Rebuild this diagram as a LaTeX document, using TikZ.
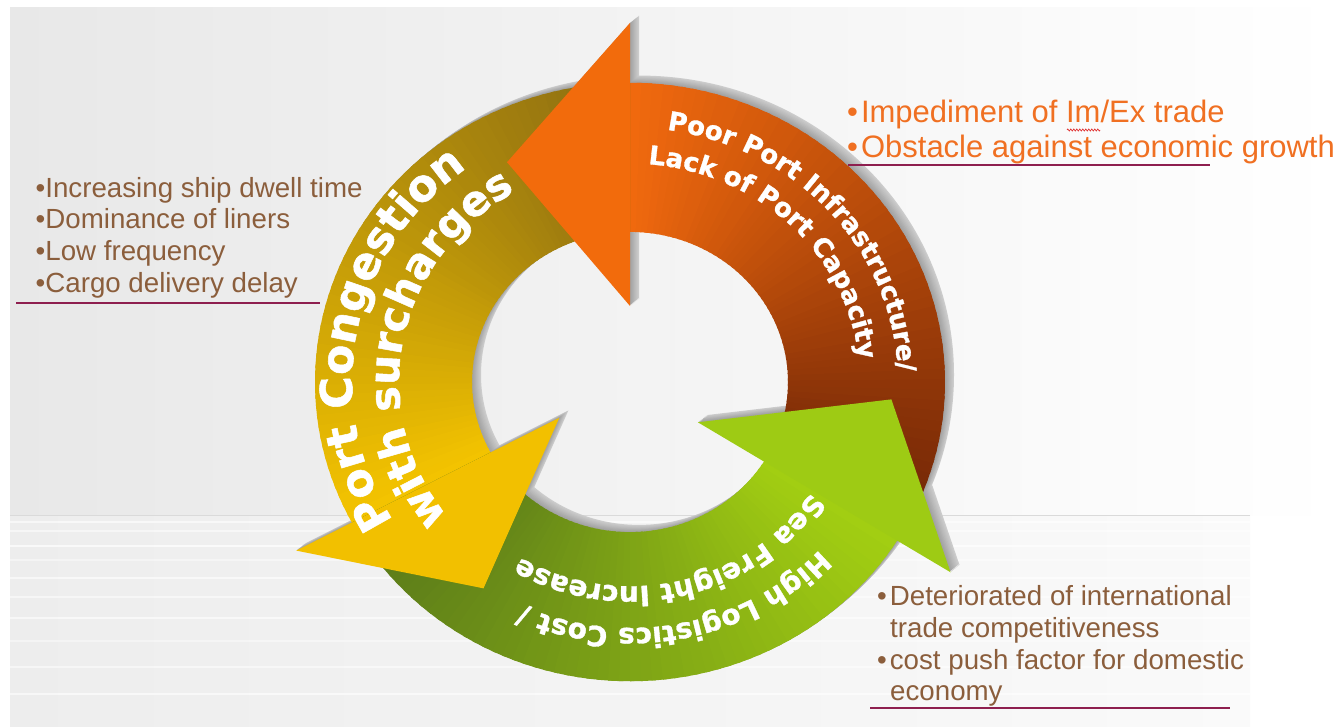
\documentclass[tikz,border=0pt]{standalone}
\usepackage{fontspec}
\setmainfont{Liberation Sans}
\newfontfamily\ringfont{DejaVu Sans}[BoldFeatures={FakeBold=1.2}]
\usetikzlibrary{decorations.text,decorations.pathmorphing}

% background
\definecolor{bgdark}{HTML}{E8E8E8}
\definecolor{bgmid}{HTML}{F3F3F3}
\definecolor{floorL}{HTML}{EDEDED}
\definecolor{floorR}{HTML}{FAFAFA}
\definecolor{horizon}{HTML}{DADADA}
% ring colours
\definecolor{orangeTail}{HTML}{6E2406}
\definecolor{orangeHead}{HTML}{F0690E}
\definecolor{orangeTip}{HTML}{F26B0C}
\definecolor{yellowTail}{HTML}{8C6D12}
\definecolor{yellowHead}{HTML}{F3C300}
\definecolor{yellowTip}{HTML}{F2C000}
\definecolor{greenTail}{HTML}{57761A}
\definecolor{greenHead}{HTML}{A2CE12}
\definecolor{greenTip}{HTML}{9ECB14}
% notes
\definecolor{notebrown}{HTML}{8B5E3C}
\definecolor{noteorange}{HTML}{F07022}
\definecolor{ruleline}{HTML}{8E1F4F}
\definecolor{squiggle}{HTML}{E03535}

% fonts for the ring labels
\newcommand\ringOrange{\ringfont\bfseries\fontsize{26}{26}\selectfont}
\newcommand\ringYellowA{\ringfont\bfseries\fontsize{44}{44}\selectfont}
\newcommand\ringYellowB{\ringfont\bfseries\fontsize{42}{42}\selectfont}
\newcommand\ringGreen{\ringfont\bfseries\fontsize{28}{28}\selectfont}

% ring geometry (outer / inner radius)
\newcommand\Ro{315}
\newcommand\Ri{158}
\newcommand\bandpath[2]{(#1:\Ro) arc[start angle=#1, end angle=#2, radius=\Ro] -- (#2:\Ri) arc[start angle=#2, end angle=#1, radius=\Ri] -- cycle}
\newcommand\headpath[1]{(#1:80) -- (#1:378) -- ({#1+28}:262) -- cycle}
% band from angle #1 (colour #3) to angle #2 (colour #4), built from thin slices
\newcommand\gradband[4]{%
  \foreach \i in {0,...,59}{%
    \pgfmathsetmacro\sa{#1+(#2-#1)*\i/60}%
    \pgfmathsetmacro\ea{#1+(#2-#1)*(\i+1.4)/60}%
    \pgfmathtruncatemacro\mixp{round(100*\i/59)}%
    \fill[#4!\mixp!#3] \bandpath{\sa}{\ea};
  }}
% white label running clockwise round the ring:
% #1 font, #2 text, #3 baseline radius, #4 middle angle (counter-clockwise from east), #5 half span
\newcommand\ringlabel[5]{%
  \path[decorate, decoration={text along path, text color=white, text align=center, text={|#1|#2}}]
    ({-(#4+#5)}:{#3} and {0.95*#3}) arc[start angle={-(#4+#5)}, end angle={#5-#4}, x radius=#3, y radius={0.95*#3}];}

\tikzset{
  ring/.style={shift={(630,382)}, yscale=-0.95},
  note/.style={anchor=base west, inner sep=0pt, text=notebrown, font=\fontsize{27.7}{32}\selectfont},
  hotnote/.style={note, text=noteorange, font=\fontsize{31}{36}\selectfont},
  rule/.style={ruleline, line width=1.5pt}
}

\begin{document}
\begin{tikzpicture}[x=1pt,y=-1pt]
\useasboundingbox (0,0) rectangle (1339,726);

% backdrop
\fill[white] (0,0) rectangle (1339,726);
\shade[left color=bgdark, middle color=bgmid, right color=white] (10,7) rectangle (1339,515);
\shade[left color=floorL, right color=floorR] (10,515) rectangle (1250,726);
\foreach \yy/\op in {522/0.6,531/0.5,546/0.7,560/0.4,578/0.6,597/0.5,618/0.6,641/0.4,667/0.5,694/0.6}{
  \draw[white, line width=1.2pt, opacity=\op] (10,\yy) -- (1250,\yy);
}
\draw[horizon, line width=1pt] (10,515) -- (1250,515);

% extruded grey rim behind the ring
\foreach \k in {9,8,...,1}{
  \pgfmathtruncatemacro\rimmix{20+2*(9-\k)}
  \begin{scope}[shift={(630+\k,382-0.8*\k)}, yscale=-0.95]
    \fill[black!\rimmix, even odd rule] (0,0) circle[radius=\Ro] (0,0) circle[radius=\Ri];
    \fill[black!\rimmix] \headpath{90} \headpath{208} \headpath{328};
  \end{scope}
}

\begin{scope}[ring]
  % arrow bodies
  \gradband{-32}{90}{orangeTail}{orangeHead}
  \gradband{90}{208}{yellowTail}{yellowHead}
  \gradband{208}{328}{greenTail}{greenHead}
  % arrow heads
  \fill[orangeTip] \headpath{90};
  \fill[yellowTip] \headpath{208};
  \fill[greenTip] \headpath{328};
\end{scope}

% labels on the ring
\begin{scope}[shift={(630,382)}]
  \ringlabel{\ringOrange}{Poor Port Infrastructure/}{268}{41.5}{70}
  \ringlabel{\ringOrange}{Lack of Port Capacity}{230}{45}{70}
  \ringlabel{\ringYellowA}{Port Congestion}{278}{169}{70}
  \ringlabel{\ringYellowB}{with surcharges}{231}{169}{70}
  \ringlabel{\ringGreen}{High Logistics Cost /}{259}{-78.5}{70}
  \ringlabel{\ringGreen}{Sea Freight Increase}{215}{-76.5}{70}
\end{scope}

% left notes
\node[note] (l1) at (35.5,197) {•Increasing ship dwell time};
\node[note] (l2) at (35.5,228) {•Dominance of liners};
\node[note] (l3) at (35.5,260) {•Low frequency};
\node[note] (l4) at (35.5,292) {•Cargo delivery delay};
\draw[rule] (16,303) -- (320,303);

% upper right notes
\node[hotnote] (r1) at (847,122) {•\hspace{3pt}Impediment of Im/Ex trade};
\node[hotnote] (r2) at (847,157) {•\hspace{3pt}Obstacle against economic growth};
\draw[squiggle, line width=0.7pt, decorate, decoration={zigzag, amplitude=1pt, segment length=3pt}] (1067,130) -- (1100,130);
\draw[rule] (848,165) -- (1210,165);

% lower right notes
\node[note] (b1) at (877,605) {•\hspace{3pt}Deteriorated of international};
\node[note] (b2) at (890,637) {trade competitiveness};
\node[note] (b3) at (877,669) {•\hspace{3pt}cost push factor for domestic};
\node[note] (b4) at (890,700) {economy};
\draw[rule] (870,708) -- (1230,708);
\end{tikzpicture}
\end{document}
